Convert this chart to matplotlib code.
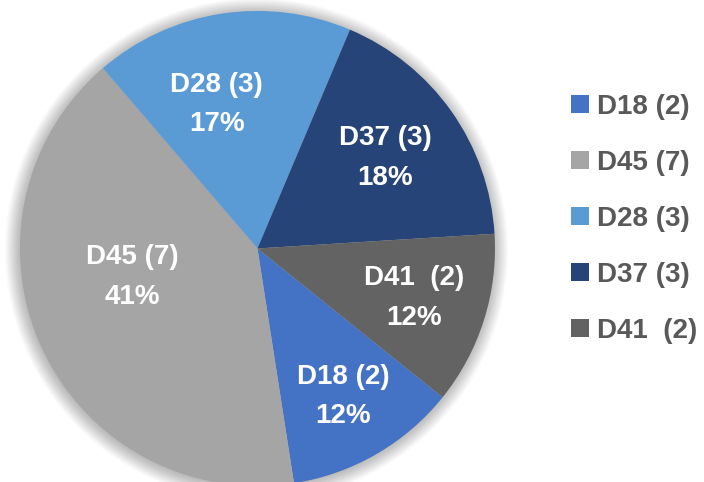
import numpy as np
import matplotlib.pyplot as plt
from matplotlib.patches import Circle

labels = ['D18 (2)', 'D45 (7)', 'D28 (3)', 'D37 (3)', 'D41  (2)']
counts = [2, 7, 3, 3, 2]
pct_labels = ['12%', '41%', '17%', '18%', '12%']  # as printed on the chart
colors = ['#4472C4', '#A5A5A5', '#5B9BD5', '#264478', '#636363']

# label placement inside the slices (fraction of radius, angle tweak in degrees)
label_dist = [0.72, 0.54, 0.63, 0.66, 0.69]
label_turn = [0, -12, 7, 0, 0]

plt.rcParams['font.family'] = ['Liberation Sans', 'DejaVu Sans']

fig = plt.figure(figsize=(7.04, 4.82), dpi=100)
ax = fig.add_axes([0, 0, 1, 1])

# soft shadow round the pie
for k in range(14):
    ax.add_patch(Circle((-0.004, -0.006), 1.0 + 0.0045 * k, color='black',
                        alpha=0.018, lw=0, zorder=0))

wedges, _ = ax.pie(counts, colors=colors, startangle=-38.8, counterclock=False,
                   radius=1.0, wedgeprops=dict(linewidth=0, zorder=2))

for w, lab, pct, d, t in zip(wedges, labels, pct_labels, label_dist, label_turn):
    ang = np.deg2rad((w.theta1 + w.theta2) / 2 + t)
    ax.text(d * np.cos(ang), d * np.sin(ang), f"{lab}\n{pct}", ha='center', va='center',
            color='white', fontsize=20, fontweight='bold', linespacing=1.68, zorder=3)

ax.set_xlim(-1.084, 1.880)
ax.set_ylim(-0.983, 1.046)
ax.set_aspect('auto')
ax.axis('off')

leg = ax.legend(wedges, labels, loc='center left', bbox_to_anchor=(546 / 704, 1 - 219 / 482),
                bbox_transform=fig.transFigure, frameon=False, handlelength=0.63,
                handleheight=0.63, handletextpad=0.3, labelspacing=1.08,
                prop=dict(size=20, weight='bold'))
for txt in leg.get_texts():
    txt.set_color('#595959')

fig.savefig('out.png', dpi=100)
